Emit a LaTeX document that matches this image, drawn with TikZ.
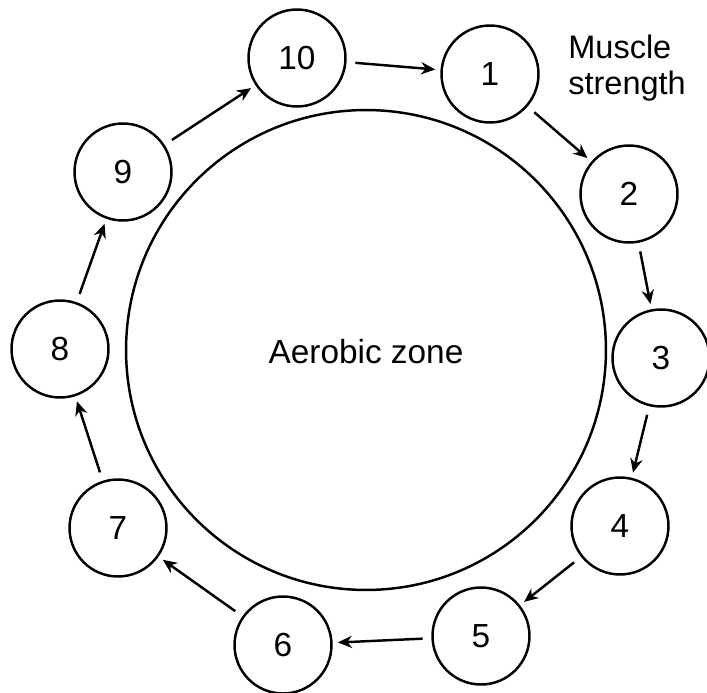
\documentclass[tikz,border=0pt]{standalone}
\usepackage{fontspec}
\setmainfont{Liberation Sans}
\usetikzlibrary{arrows.meta}
\tikzset{
  station/.style={draw, circle, line width=1.4pt, minimum size=1.94cm, inner sep=0pt, font=\fontsize{19}{22}\selectfont},
  flow/.style={-{Stealth[length=8pt,width=7pt]}, line width=1.4pt, shorten <=5pt, shorten >=3pt}
}
\begin{document}
\begin{tikzpicture}[x={(0.02cm,0)}, y={(0,-0.02cm)}]
    \useasboundingbox (0,0) rectangle (707,693);

    \node[draw, circle, line width=1.4pt, minimum size=9.6cm, inner sep=0pt] (zone) at (366,350) {};
    \node[font=\fontsize{19}{22}\selectfont] (label) at (366,352) {Aerobic zone};

    \node[station] (s10) at (297,58) {10};
    \node[station] (s1) at (490,74) {1};
    \node[station] (s2) at (629,194) {2};
    \node[station] (s3) at (661,358) {3};
    \node[station] (s4) at (620,526) {4};
    \node[station] (s5) at (481,636) {5};
    \node[station] (s6) at (283,645) {6};
    \node[station] (s7) at (118,528) {7};
    \node[station] (s8) at (60,349) {8};
    \node[station] (s9) at (123,172) {9};

    \node[anchor=north west, align=left, inner sep=0pt, font=\fontsize{18.5}{20.5}\selectfont] (muscle) at (568,35) {Muscle\\strength};

    \draw[flow] (s10) -- (s1);
    \draw[flow] (s1) -- (s2);
    \draw[flow] (s2) -- (s3);
    \draw[flow] (s3) -- (s4);
    \draw[flow] (s4) -- (s5);
    \draw[flow] (s5) -- (s6);
    \draw[flow] (s6) -- (s7);
    \draw[flow] (s7) -- (s8);
    \draw[flow] (s8) -- (s9);
    \draw[flow] (s9) -- (s10);
\end{tikzpicture}
\end{document}
